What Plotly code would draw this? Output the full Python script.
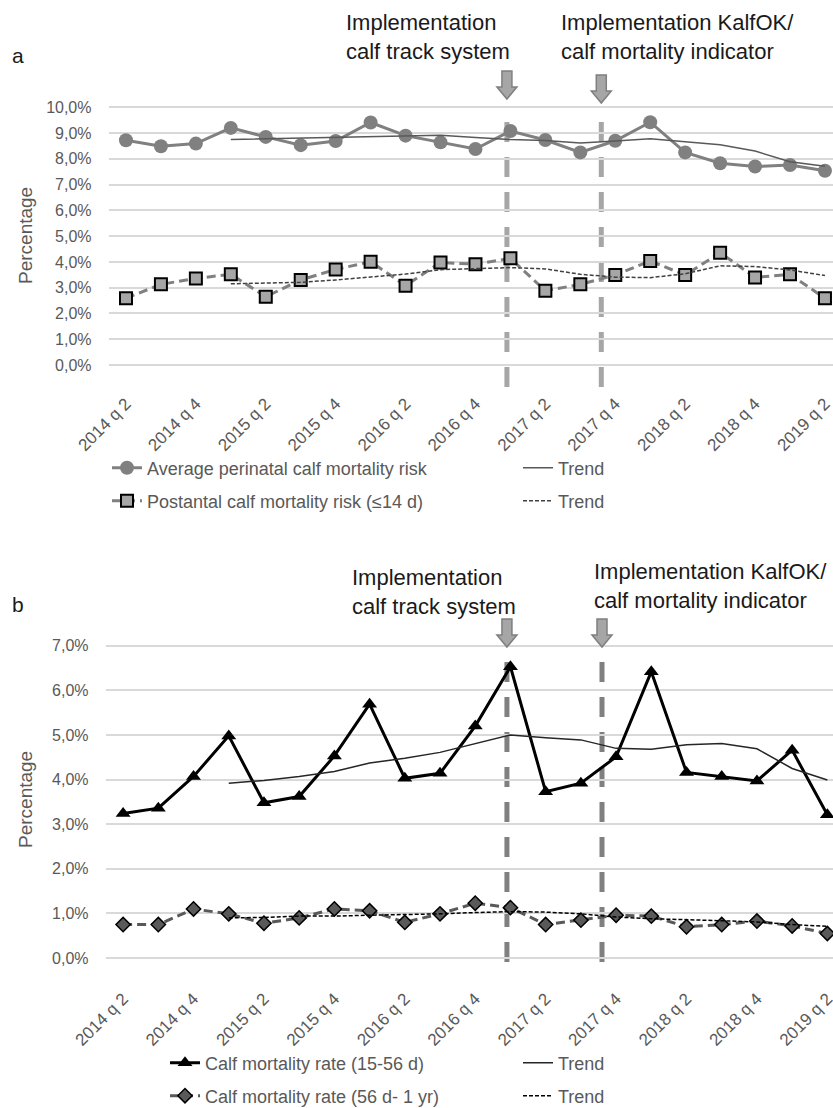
import plotly.graph_objects as go

# ---------------- data ----------------
quarters = ["2014 q 2", "2014 q 3", "2014 q 4", "2015 q 1", "2015 q 2", "2015 q 3", "2015 q 4",
            "2016 q 1", "2016 q 2", "2016 q 3", "2016 q 4", "2017 q 1", "2017 q 2", "2017 q 3",
            "2017 q 4", "2018 q 1", "2018 q 2", "2018 q 3", "2018 q 4", "2019 q 1", "2019 q 2"]
tick_labels = quarters[::2]

perinatal = [8.72, 8.49, 8.59, 9.20, 8.85, 8.53, 8.69, 9.41, 8.90, 8.64, 8.38, 9.08, 8.73, 8.25,
             8.70, 9.42, 8.25, 7.83, 7.70, 7.76, 7.54]
perinatal_trend = [None, None, None, 8.75, 8.78, 8.79, 8.82, 8.87, 8.88, 8.91, 8.83, 8.75, 8.71,
                   8.61, 8.69, 8.78, 8.66, 8.55, 8.30, 7.89, 7.71]
postnatal = [2.59, 3.13, 3.36, 3.52, 2.65, 3.30, 3.71, 4.01, 3.08, 3.98, 3.91, 4.14, 2.88, 3.13,
             3.49, 4.04, 3.49, 4.36, 3.40, 3.52, 2.59]
postnatal_trend = [None, None, None, 3.15, 3.17, 3.21, 3.30, 3.42, 3.53, 3.70, 3.75, 3.78, 3.73,
                   3.52, 3.41, 3.39, 3.54, 3.85, 3.82, 3.69, 3.47]

rate_15_56 = [3.24, 3.36, 4.07, 4.98, 3.48, 3.62, 4.53, 5.69, 4.03, 4.14, 5.20, 6.53, 3.73, 3.92,
              4.51, 6.42, 4.16, 4.07, 3.97, 4.66, 3.21]
rate_15_56_trend = [None, None, None, 3.92, 3.98, 4.07, 4.18, 4.37, 4.48, 4.61, 4.81, 5.00, 4.94,
                    4.89, 4.70, 4.68, 4.78, 4.81, 4.69, 4.25, 3.99]
rate_56_1yr = [0.75, 0.75, 1.10, 0.99, 0.78, 0.90, 1.10, 1.06, 0.80, 0.99, 1.23, 1.13, 0.75, 0.85,
               0.96, 0.94, 0.70, 0.75, 0.83, 0.72, 0.55]
rate_56_1yr_trend = [None, None, None, 0.90, 0.91, 0.94, 0.94, 0.96, 0.97, 0.99, 1.02, 1.04, 1.03,
                     0.99, 0.92, 0.88, 0.86, 0.84, 0.81, 0.75, 0.71]

yticks_a = [0, 1, 2, 3, 4, 5, 6, 7, 8, 9, 10]
yticks_b = [0, 1, 2, 3, 4, 5, 6, 7]
ytick_text_a = ["0,0%", "1,0%", "2,0%", "3,0%", "4,0%", "5,0%", "6,0%", "7,0%", "8,0%", "9,0%", "10,0%"]
ytick_text_b = ["0,0%", "1,0%", "2,0%", "3,0%", "4,0%", "5,0%", "6,0%", "7,0%"]

events = [10.9, 13.6]  # category-index positions of the two interventions
event_text = ["Implementation<br>calf track system", "Implementation KalfOK/<br>calf mortality indicator"]

# ---------------- layout helpers ----------------
W, H = 833, 1108
FONT = "Liberation Sans, Arial, sans-serif"
GREY_TXT = "#595959"


def py(p):
    return 1 - p / H


fig = go.Figure()

# panel a
fig.add_trace(go.Scatter(x=quarters, y=perinatal, mode="lines+markers", name="Average perinatal calf mortality risk",
                         line=dict(color="#808080", width=3), marker=dict(symbol="circle", size=14, color="#808080"),
                         xaxis="x", yaxis="y", legend="legend"))
fig.add_trace(go.Scatter(x=quarters, y=perinatal_trend, mode="lines", name="Trend",
                         line=dict(color="#595959", width=1.5), xaxis="x", yaxis="y", legend="legend2"))
fig.add_trace(go.Scatter(x=quarters, y=postnatal, mode="lines+markers", name="Postantal calf mortality risk (≤14 d)",
                         line=dict(color="#808080", width=3, dash="9px,5px"),
                         marker=dict(symbol="square", size=12, color="#a6a6a6", line=dict(color="#000000", width=2)),
                         xaxis="x", yaxis="y", legend="legend3"))
fig.add_trace(go.Scatter(x=quarters, y=postnatal_trend, mode="lines", name="Trend",
                         line=dict(color="#404040", width=1.5, dash="4px,2px"), xaxis="x", yaxis="y", legend="legend4"))

# panel b
fig.add_trace(go.Scatter(x=quarters, y=rate_15_56, mode="lines+markers", name="Calf mortality rate (15-56 d)",
                         line=dict(color="#000000", width=3), marker=dict(symbol="triangle-up", size=13, color="#000000"),
                         xaxis="x2", yaxis="y2", legend="legend5"))
fig.add_trace(go.Scatter(x=quarters, y=rate_15_56_trend, mode="lines", name="Trend",
                         line=dict(color="#262626", width=1.5), xaxis="x2", yaxis="y2", legend="legend6"))
fig.add_trace(go.Scatter(x=quarters, y=rate_56_1yr, mode="lines+markers", name="Calf mortality rate (56 d- 1 yr)",
                         line=dict(color="#595959", width=3, dash="9px,5px"),
                         marker=dict(symbol="diamond", size=11, color="#595959", line=dict(color="#000000", width=1.5)),
                         xaxis="x2", yaxis="y2", legend="legend7"))
fig.add_trace(go.Scatter(x=quarters, y=rate_56_1yr_trend, mode="lines", name="Trend",
                         line=dict(color="#000000", width=1.5, dash="4px,2px"), xaxis="x2", yaxis="y2", legend="legend8"))

xaxis_common = dict(type="category", tickvals=tick_labels, tickangle=-45, showgrid=False, zeroline=False,
                    showline=False, ticks="", automargin=False, ticklabelstandoff=22,
                    tickfont=dict(family=FONT, size=17, color=GREY_TXT))
yaxis_common = dict(showgrid=True, gridcolor="#d9d9d9", gridwidth=1.5, zeroline=False, showline=False, ticks="",
                    automargin=False, tickfont=dict(family=FONT, size=16, color=GREY_TXT), ticklabelstandoff=16)

layout = dict(
    width=W, height=H, margin=dict(l=0, r=0, t=0, b=0, pad=0, autoexpand=False),
    paper_bgcolor="white", plot_bgcolor="white",
    font=dict(family=FONT, color=GREY_TXT),
    xaxis=dict(domain=[108.5 / W, 1], range=[-0.5, 20.23], anchor="y", **xaxis_common),
    yaxis=dict(domain=[py(367.6), py(104.7)], range=[-0.1, 10.1], anchor="x",
               tickvals=yticks_a, ticktext=ytick_text_a, **yaxis_common),
    xaxis2=dict(domain=[105.5 / W, 1], range=[-0.5, 20.16], anchor="y2", **xaxis_common),
    yaxis2=dict(domain=[py(962.5), py(641.3)], range=[-0.1, 7.1], anchor="x2",
                tickvals=yticks_b, ticktext=ytick_text_b, **yaxis_common),
    showlegend=True,
)

legend_pos = {
    "legend": (107, 468), "legend2": (518, 468), "legend3": (107, 501), "legend4": (518, 501),
    "legend5": (165, 1063), "legend6": (518, 1063), "legend7": (165, 1096), "legend8": (518, 1096),
}
for key, (lx, ly) in legend_pos.items():
    layout[key] = dict(x=lx / W, y=py(ly), xanchor="left", yanchor="middle", orientation="h",
                       bgcolor="rgba(0,0,0,0)", borderwidth=0,
                       font=dict(family=FONT, size=18, color=GREY_TXT))

fig.update_layout(**layout)

# event lines, arrows and texts
arrow_path = "M -5 28 L 5 28 L 5 12 L 10 12 L 0 0 L -10 12 L -5 12 Z"
panels = [
    # xref, line top, line bottom, line colour, arrow tips, text left x, text centre y
    ("x", 112, 387, "#a6a6a6", [99, 103], [344, 559], [37, 37]),
    ("x2", 655, 962, "#808080", [647, 647], [350, 592], [592, 586]),
]
for xref, ltop, lbot, lcol, tips, tx, ty in panels:
    for i, ev in enumerate(events):
        fig.add_shape(type="line", xref=xref, yref="paper", x0=ev, x1=ev, y0=py(lbot), y1=py(ltop),
                      line=dict(color=lcol, width=5, dash="20px,15px"), layer="below")
        fig.add_shape(type="path", xref=xref, yref="paper", xsizemode="pixel", ysizemode="pixel",
                      xanchor=ev, yanchor=py(tips[i]), path=arrow_path,
                      fillcolor="#a6a6a6", line=dict(color="#7f7f7f", width=1.5))
        fig.add_annotation(xref="paper", yref="paper", x=tx[i] / W, y=py(ty[i]), xanchor="left",
                           yanchor="middle", align="left", showarrow=False, text=event_text[i],
                           font=dict(family=FONT, size=22, color="#1a1a1a"))

# panel letters and y-axis titles
for letter, ly in [("a", 55), ("b", 604)]:
    fig.add_annotation(xref="paper", yref="paper", x=18 / W, y=py(ly), xanchor="center", yanchor="middle",
                       showarrow=False, text=letter, font=dict(family=FONT, size=21, color="#1a1a1a"))
for ly in [236, 800]:
    fig.add_annotation(xref="paper", yref="paper", x=25 / W, y=py(ly), xanchor="center", yanchor="middle",
                       showarrow=False, text="Percentage", textangle=-90,
                       font=dict(family=FONT, size=19, color=GREY_TXT))

fig.write_html("out.html", config={"displayModeBar": False},
               post_script="document.body.style.margin='0px';")
